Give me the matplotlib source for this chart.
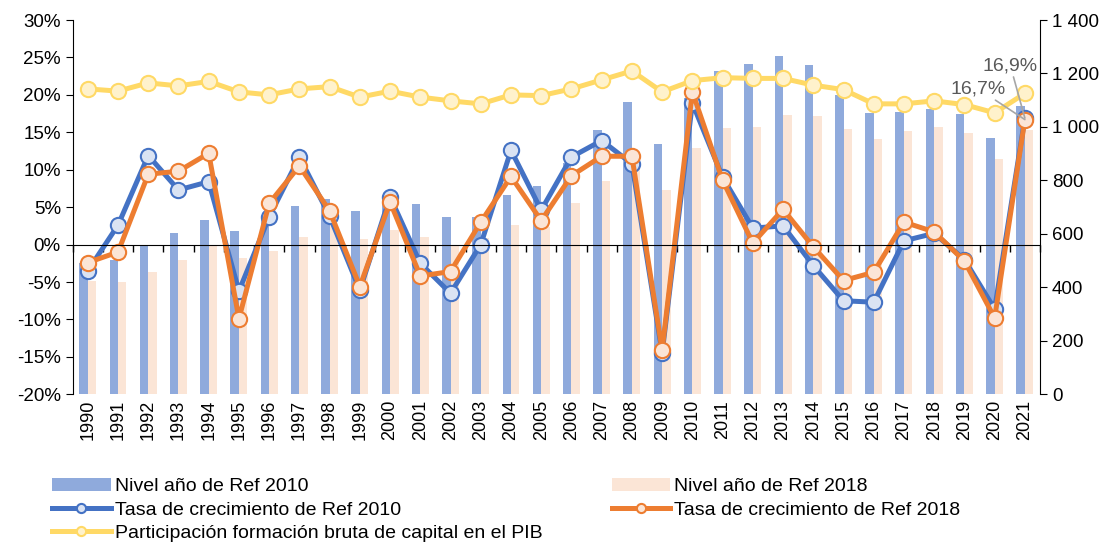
import numpy as np
import matplotlib.pyplot as plt
from matplotlib.ticker import FuncFormatter

# datos
years = [str(y) for y in range(1990, 2022)]

nivel_2010 = [490, 502, 559, 602, 652, 610, 660, 704, 730, 685, 727,
              710, 664, 662, 745, 779, 866, 988, 1094, 935, 1108,
              1208, 1235, 1266, 1230, 1120, 1051, 1056, 1068, 1050, 960, 1079]
nivel_2018 = [424, 419, 459, 502, 558, 509, 536, 590, 630, 581, 614,
              588, 558, 585, 634, 625, 716, 798, 870, 764, 920,
              997, 1000, 1045, 1041, 992, 956, 984, 1001, 978, 881, 988]

tasa_2010 = [-3.5, 2.6, 11.9, 7.3, 8.4, -6.2, 3.7, 11.7, 3.8, -6.1, 6.4,
             -2.5, -6.5, 0.0, 12.6, 4.6, 11.7, 13.9, 10.8, -14.5, 18.9,
             9.0, 2.2, 2.5, -2.8, -7.5, -7.7, 0.5, 1.5, -2.0, -8.6, 16.9]
tasa_2018 = [-2.4, -1.0, 9.4, 9.8, 12.2, -9.9, 5.5, 10.5, 4.5, -5.6, 5.7,
             -4.2, -3.6, 3.0, 9.1, 3.2, 9.2, 11.8, 11.8, -14.1, 20.4,
             8.6, 0.2, 4.7, -0.3, -4.8, -3.7, 3.0, 1.7, -2.2, -9.8, 16.7]
participacion = [20.8, 20.5, 21.6, 21.2, 21.8, 20.4, 20.0, 20.8, 21.1, 19.7, 20.5,
                 19.7, 19.2, 18.8, 20.0, 19.9, 20.8, 22.0, 23.2, 20.4, 21.9,
                 22.3, 22.2, 22.2, 21.3, 20.7, 18.8, 18.8, 19.2, 18.7, 17.6, 20.2]

plt.rcParams['font.family'] = ['Liberation Sans', 'DejaVu Sans']

x = np.arange(len(years))

fig = plt.figure(figsize=(11.13, 5.44), dpi=100)
ax = fig.add_axes([0.0653, 0.2752, 0.8691, 0.688])
ax2 = ax.twinx()
ax.set_zorder(ax2.get_zorder() + 1)
ax.patch.set_visible(False)

# barras (eje derecho)
b1 = ax2.bar(x - 0.14, nivel_2010, width=0.28, color='#8FAADC')
b2 = ax2.bar(x + 0.14, nivel_2018, width=0.28, color='#FBE5D6')
ax2.set_ylim(0, 1400)
ax2.set_yticks(range(0, 1401, 200))
ax2.yaxis.set_major_formatter(FuncFormatter(lambda v, p: f'{int(v):,}'.replace(',', ' ')))

# lineas (eje izquierdo)
ms = 11
l1, = ax.plot(x, tasa_2010, color='#4472C4', lw=3.6, marker='o', ms=ms,
              mfc='#DAE3F3', mec='#4472C4', mew=1.5)
l2, = ax.plot(x, tasa_2018, color='#ED7D31', lw=3.6, marker='o', ms=ms,
              mfc='#FBE5D6', mec='#ED7D31', mew=1.5)
l3, = ax.plot(x, participacion, color='#FFD966', lw=3.6, marker='o', ms=ms,
              mfc='#FFF2CC', mec='#FFD966', mew=1.5)

ax.set_ylim(-20, 30)
ax.set_yticks(range(-20, 31, 5))
ax.yaxis.set_major_formatter(FuncFormatter(lambda v, p: f'{int(v)}%'))
ax.set_xlim(-0.5, len(years) - 0.5)

# eje de categorias cruzando en 0%
ax.spines['bottom'].set_position(('data', 0))
ax.spines['top'].set_visible(False)
ax.set_xticks(x)
ax.set_xticklabels([])
ax.tick_params(axis='x', which='major', length=0)
ax.set_xticks(np.arange(-0.5, len(years), 1), minor=True)
ax.tick_params(axis='x', which='minor', length=5, direction='out', width=1)
for s in ['top', 'bottom', 'left', 'right']:
    ax2.spines[s].set_visible(s == 'right')
ax.spines['right'].set_visible(False)

sec = ax.secondary_xaxis(0)
sec.set_xticks(x, labels=years, rotation=90)
sec.tick_params(length=0, labelsize=13, pad=4)
sec.spines['bottom'].set_visible(False)

ax.tick_params(axis='y', labelsize=13.5, length=5, direction='out')
ax2.tick_params(axis='y', labelsize=13.5, length=5, direction='out')

# etiquetas 2021
arrow = dict(arrowstyle='-', color='#A6A6A6', lw=1.2, shrinkA=0, shrinkB=0)
ax.annotate('16,9%', xy=(31, tasa_2010[-1]), xytext=(30.52, 23.9),
            ha='center', va='center', fontsize=14, color='#595959',
            arrowprops=arrow)
ax.annotate('16,7%', xy=(31, tasa_2018[-1]), xytext=(29.46, 20.8),
            ha='center', va='center', fontsize=14, color='#595959',
            arrowprops=arrow)

handles = [b1, l1, l3, b2, l2]
labels = ['Nivel año de Ref 2010', 'Tasa de crecimiento de Ref 2010',
          'Participación formación bruta de capital en el PIB',
          'Nivel año de Ref 2018', 'Tasa de crecimiento de Ref 2018']
fig.legend(handles, labels, ncol=2, loc='upper left', bbox_to_anchor=(0.040, 0.136),
           frameon=False, fontsize=14, handlelength=3.0, handletextpad=0.2,
           columnspacing=3.6, labelspacing=0.3, borderaxespad=0, markerscale=0.6)

fig.savefig('out.png', dpi=100)
